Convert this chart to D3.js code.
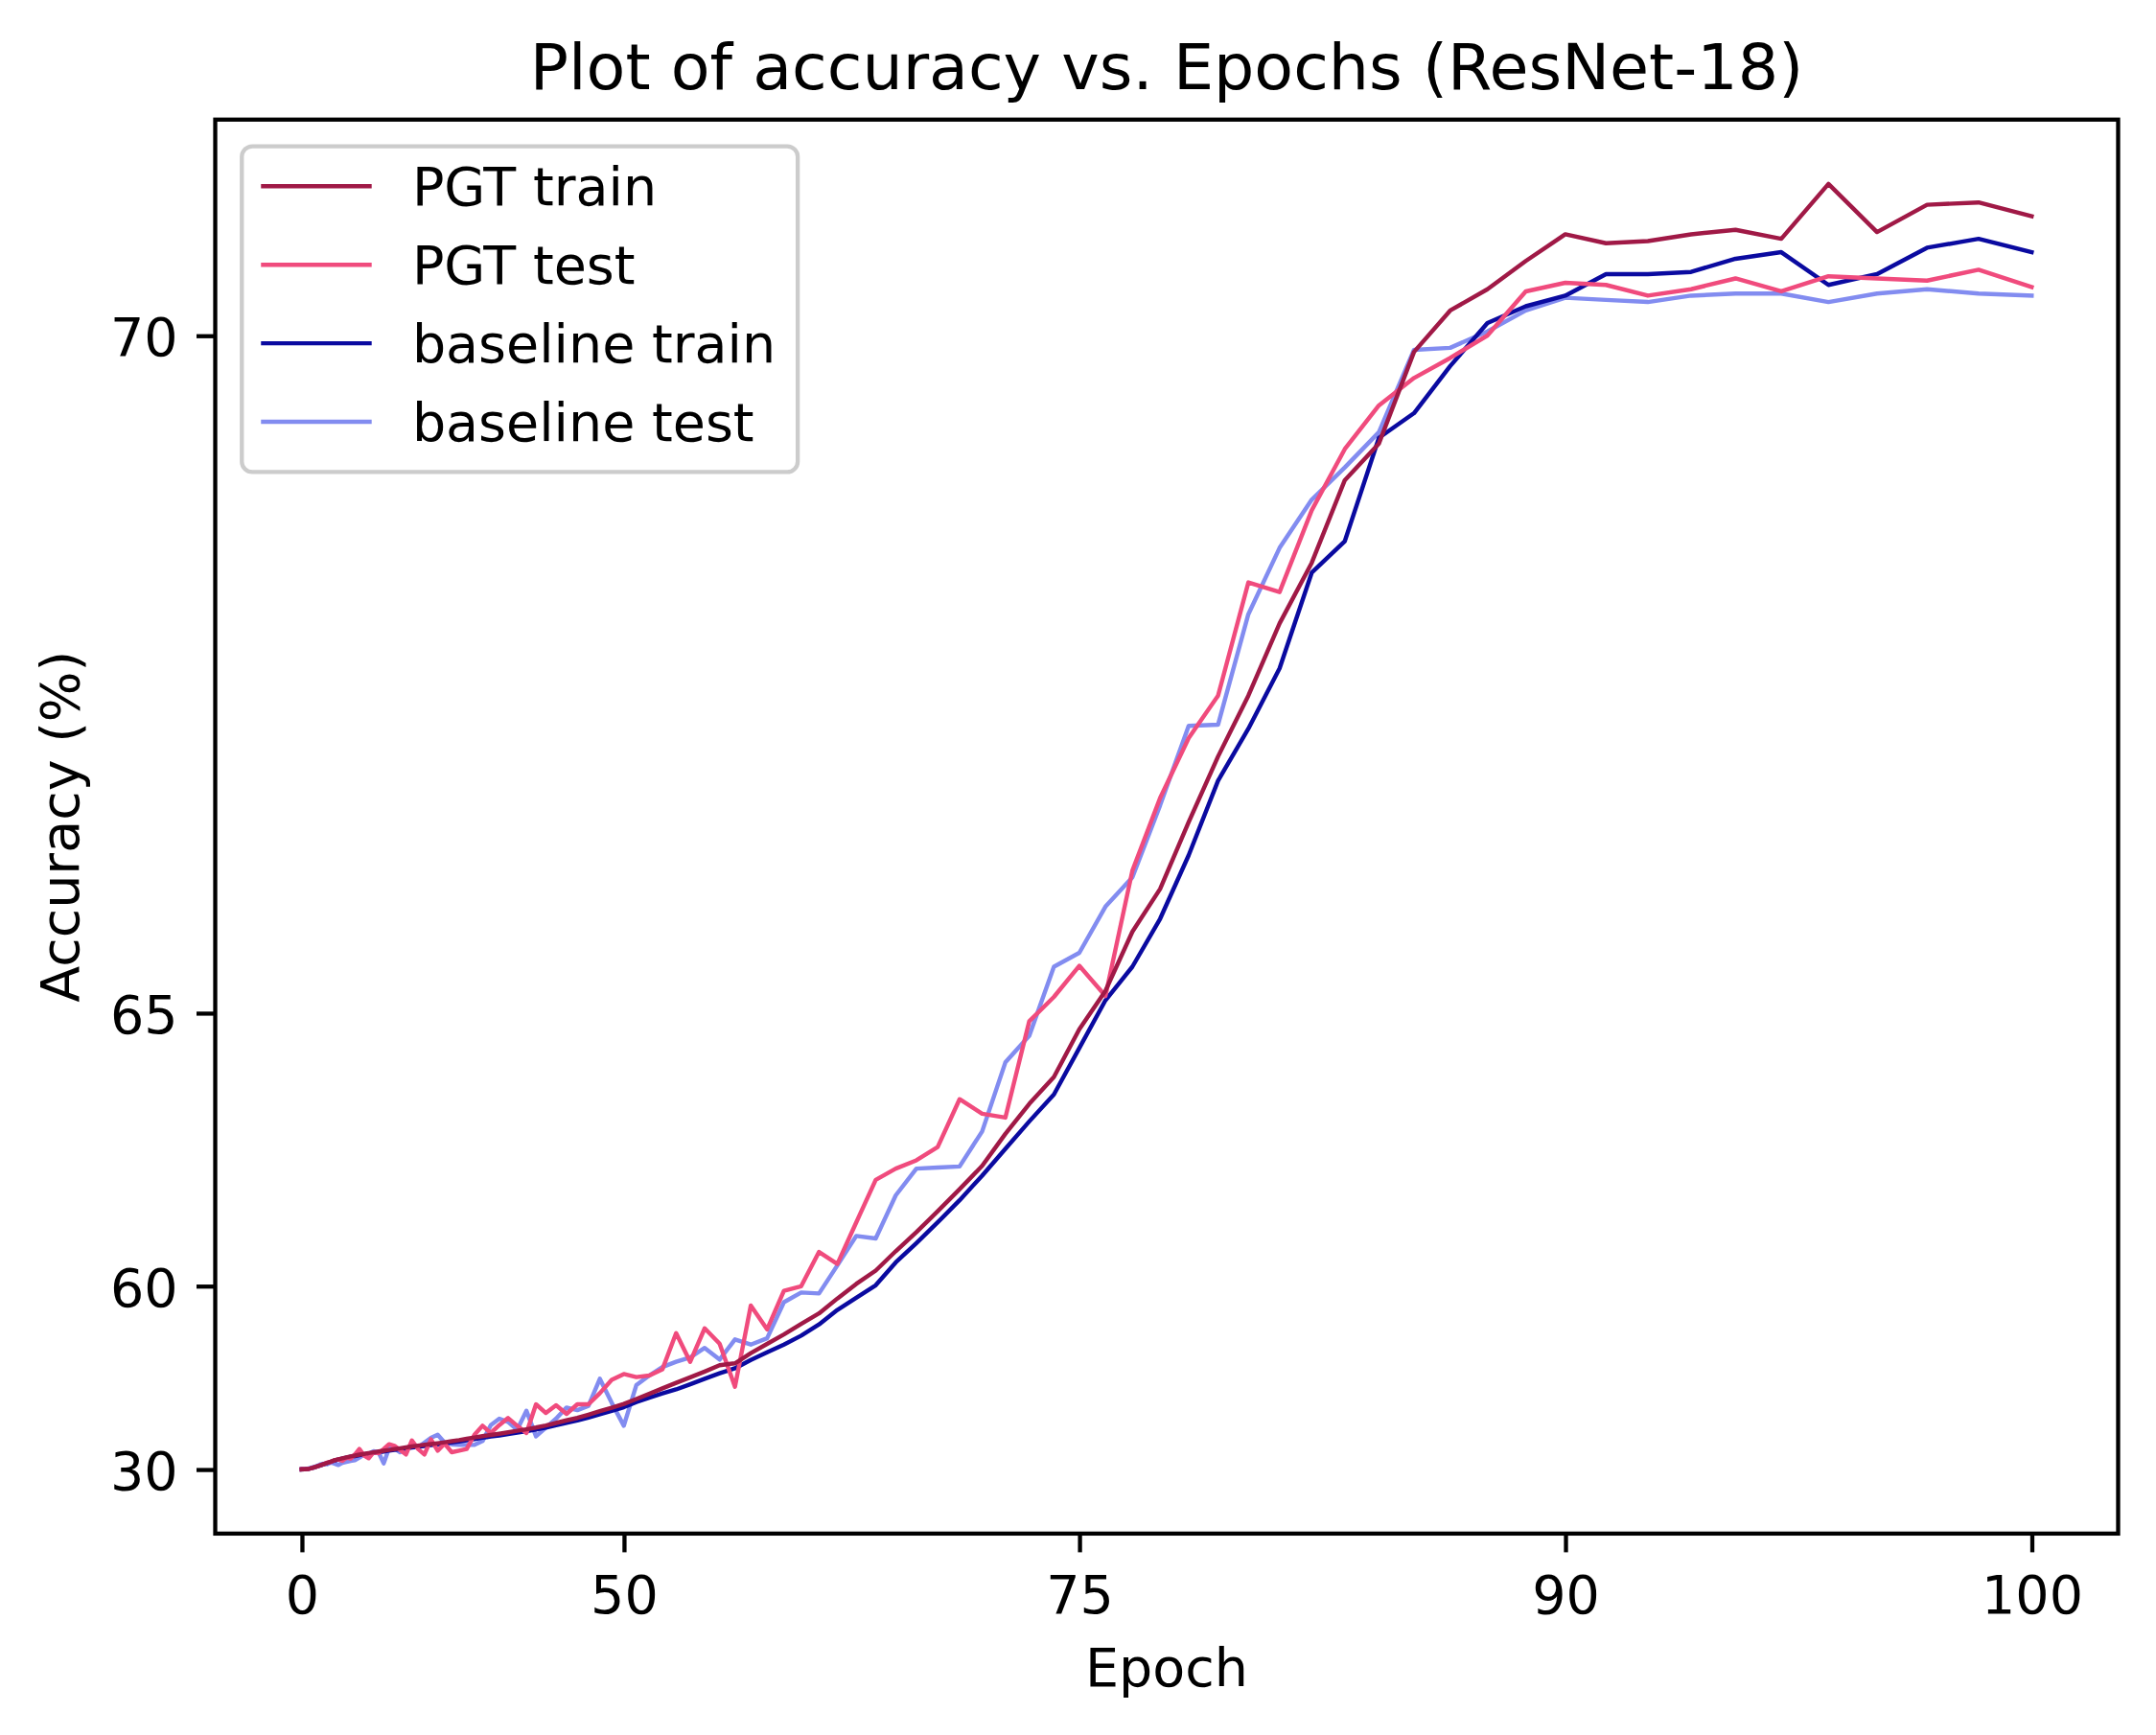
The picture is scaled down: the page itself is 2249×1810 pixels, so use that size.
<!DOCTYPE html>
<html>
<head>
<meta charset="utf-8">
<title>Plot of accuracy vs. Epochs (ResNet-18)</title>
<script src="https://d3js.org/d3.v7.min.js"></script>
<style>
body { margin: 0; background: #ffffff; }
#chart text { font-family: 'DejaVu Sans', sans-serif; fill: #000; }
.series { fill: none; stroke-linejoin: round; stroke-linecap: square; }
</style>
</head>
<body>
<svg id="chart"></svg>
<script>
// epochs 0..100, one point per epoch
var epochs = d3.range(0, 101);

var pgtTrain = [
	30.00, 31.00, 31.50, 34.50, 36.59, 38.52, 39.95, 41.20, 42.23, 43.09,
	43.84, 44.42, 44.89, 45.32, 45.72, 46.04, 46.39, 46.63, 46.90, 47.14,
	47.37, 47.61, 47.84, 48.06, 48.27, 48.48, 48.70, 48.89, 49.07, 49.25,
	49.42, 49.61, 49.80, 50.01, 50.25, 50.47, 50.69, 50.89, 51.08, 51.28,
	51.50, 51.71, 51.94, 52.20, 52.50, 52.80, 53.06, 53.40, 53.74, 54.05,
	54.37, 54.76, 55.15, 55.53, 55.89, 56.23, 56.56, 56.90, 57.00, 57.50,
	57.92, 58.32, 58.73, 59.11, 59.61, 60.06, 60.44, 60.95, 61.41, 61.87,
	62.32, 62.76, 63.31, 63.78, 64.17, 64.80, 65.26, 65.90, 66.32, 66.92,
	67.45, 67.90, 68.39, 68.77, 69.25, 69.45, 69.92, 70.12, 70.22, 70.35,
	70.47, 70.43, 70.44, 70.47, 70.49, 70.45, 70.69, 70.48, 70.60, 70.61, 70.55
];

var pgtTest = [
	30.00, 31.10, 31.80, 34.20, 36.80, 38.30, 40.10, 41.00, 42.40, 42.95,
	43.92, 44.27, 43.56, 45.18, 44.74, 46.44, 48.08, 46.09, 44.90, 47.16,
	46.86, 48.08, 49.20, 48.85, 47.82, 46.44, 49.96, 48.08, 46.44, 50.14,
	47.64, 49.34, 47.16, 47.64, 48.08, 50.93, 52.17, 51.18, 52.25, 53.05,
	52.17, 51.18, 54.34, 53.56, 54.26, 53.47, 54.34, 54.34, 55.20, 56.08,
	56.42, 56.24, 56.33, 56.69, 58.37, 57.08, 58.56, 57.93, 55.64, 59.38,
	58.52, 59.85, 59.99, 60.93, 60.62, 61.63, 62.50, 62.71, 62.86, 63.09,
	63.85, 63.63, 63.57, 64.90, 65.19, 65.54, 65.20, 66.49, 67.12, 67.59,
	67.90, 68.65, 68.59, 69.08, 69.42, 69.65, 69.79, 69.89, 70.00, 70.21,
	70.25, 70.24, 70.19, 70.22, 70.27, 70.21, 70.28, 70.27, 70.26, 70.31, 70.23
];

var baseTrain = [
	30.00, 31.00, 31.50, 34.40, 36.40, 38.30, 39.80, 41.05, 42.10, 42.95,
	43.70, 44.27, 44.74, 45.16, 45.55, 45.86, 46.19, 46.43, 46.70, 46.93,
	47.16, 47.40, 47.63, 47.84, 48.04, 48.24, 48.45, 48.64, 48.82, 49.00,
	49.17, 49.36, 49.55, 49.76, 49.99, 50.21, 50.43, 50.63, 50.82, 51.02,
	51.24, 51.45, 51.68, 51.93, 52.22, 52.52, 52.78, 53.11, 53.45, 53.77,
	54.09, 54.52, 54.87, 55.18, 55.46, 55.80, 56.14, 56.46, 56.74, 57.17,
	57.54, 57.89, 58.27, 58.71, 59.23, 59.63, 60.02, 60.66, 61.15, 61.63,
	62.10, 62.58, 63.06, 63.51, 63.92, 64.56, 65.15, 65.53, 66.03, 66.63,
	67.26, 67.66, 68.09, 68.71, 68.90, 69.48, 69.61, 69.85, 70.06, 70.14,
	70.19, 70.29, 70.29, 70.30, 70.36, 70.39, 70.24, 70.29, 70.41, 70.45, 70.39
];

var baseTest = [
	30.00, 31.30, 32.90, 35.50, 37.60, 38.90, 40.90, 41.50, 41.00, 42.50,
	41.60, 40.30, 42.30, 42.95, 43.56, 43.92, 45.18, 46.44, 46.66, 47.45,
	47.16, 41.80, 48.32, 48.20, 47.16, 48.30, 48.85, 48.48, 49.53, 50.42,
	50.93, 49.53, 49.20, 49.06, 49.06, 49.06, 49.84, 52.25, 52.98, 52.63,
	51.63, 53.77, 50.68, 51.93, 52.98, 54.06, 53.83, 54.20, 56.14, 54.47,
	52.17, 55.74, 56.33, 56.81, 57.08, 57.30, 57.74, 57.19, 58.11, 57.89,
	58.16, 59.49, 59.80, 59.77, 60.58, 61.32, 61.26, 62.20, 62.71, 62.73,
	62.75, 63.35, 64.37, 64.72, 65.53, 65.68, 66.15, 66.43, 67.06, 67.68,
	67.69, 68.45, 68.86, 69.14, 69.32, 69.51, 69.93, 69.94, 70.02, 70.12,
	70.18, 70.17, 70.16, 70.19, 70.20, 70.20, 70.16, 70.20, 70.22, 70.20, 70.19
];

var xTicks = [0, 50, 75, 90, 100];
var yTicks = [30, 60, 65, 70];

var seriesNames = ["PGT train", "PGT test", "baseline train", "baseline test"];
var seriesColors = ["#a01946", "#f04b7d", "#0a0aa0", "#828cf0"];
var seriesValues = [pgtTrain, pgtTest, baseTrain, baseTest];
var drawOrder = [3, 2, 1, 0]; // PGT train ends up on top

/******** layout (view units, scaled up to 2249x1810) ********/
var W = 1568, H = 1262;
// note: not called "top", that one is taken by window.top
var axL = 156.5, axR = 1540.5, axT = 87, axB = 1115.5;
var FONT = "'DejaVu Sans', sans-serif";
var fs = 38.7;        // 10pt
var tickLen = 13.6;   // 3.5pt
var lw = 3.0;

var svg = d3.select("#chart")
	.attr("width", 2249)
	.attr("height", 1810)
	.attr("viewBox", "0 0 " + W + " " + H);

svg.append("rect").attr("width", W).attr("height", H).attr("fill", "#fff");

// both axes are stretched: the chart uses an exponential warp on x and y
var xWarp = function(e){ return Math.exp(0.0295 * e); };
var yWarp = function(v){ return Math.exp(0.1818 * v); };

//matplotlib style 5% margin round the data
function padded(ext){
	var p = (ext[1] - ext[0]) * 0.05;
	return [ext[0] - p, ext[1] + p];
}

var allValues = d3.merge(seriesValues);

var x = d3.scaleLinear()
	.domain(padded(d3.extent(epochs.map(xWarp))))
	.range([axL, axR]);

var y = d3.scaleLinear()
	.domain(padded(d3.extent(allValues.map(yWarp))))
	.range([axB, axT]);

var line = d3.line()
	.x(function(d, i){ return x(xWarp(epochs[i])); })
	.y(function(d){ return y(yWarp(d)); });

/******** lines ********/
drawOrder.forEach(function(k){
	svg.append("path")
		.datum(seriesValues[k])
		.attr("class", "series")
		.attr("stroke", seriesColors[k])
		.attr("stroke-width", 3.1)
		.attr("d", line);
});

/******** axes ********/
var xAxis = d3.axisBottom(x)
	.tickValues(xTicks.map(xWarp))
	.tickFormat(function(d, i){ return xTicks[i]; })
	.tickSizeInner(tickLen)
	.tickSizeOuter(0)
	.tickPadding(tickLen);

var gx = svg.append("g")
	.attr("transform", "translate(0," + axB + ")")
	.call(xAxis)
	.attr("font-family", FONT)
	.attr("font-size", fs);
gx.select(".domain").remove();
gx.selectAll(".tick line").attr("stroke", "#000").attr("stroke-width", lw);
gx.selectAll(".tick text").attr("dy", null).attr("y", 58);

var yAxis = d3.axisLeft(y)
	.tickValues(yTicks.map(yWarp))
	.tickFormat(function(d, i){ return yTicks[i]; })
	.tickSizeInner(tickLen)
	.tickSizeOuter(0)
	.tickPadding(tickLen);

var gy = svg.append("g")
	.attr("transform", "translate(" + axL + ",0)")
	.call(yAxis)
	.attr("font-family", FONT)
	.attr("font-size", fs);
gy.select(".domain").remove();
gy.selectAll(".tick line").attr("stroke", "#000").attr("stroke-width", lw);
gy.selectAll(".tick text").attr("dy", "0.37em");

// frame
svg.append("rect")
	.attr("x", axL).attr("y", axT)
	.attr("width", axR - axL).attr("height", axB - axT)
	.attr("fill", "none")
	.attr("stroke", "#000")
	.attr("stroke-width", lw);

/******** texts ********/
var cx = (axL + axR) / 2;
var cy = (axT + axB) / 2;

svg.append("text")
	.attr("x", cx).attr("y", 64.5)
	.attr("text-anchor", "middle")
	.attr("font-size", 46.5)
	.text("Plot of accuracy vs. Epochs (ResNet-18)");

svg.append("text")
	.attr("x", cx).attr("y", 1226.6)
	.attr("text-anchor", "middle")
	.attr("font-size", fs)
	.text("Epoch");

svg.append("text")
	.attr("transform", "translate(56.9," + cy + ") rotate(-90)")
	.attr("text-anchor", "middle")
	.attr("font-size", fs)
	.text("Accuracy (%)");

/******** legend ********/
var lx = axL + 0.5 * fs, ly = axT + 0.5 * fs;
var rowY = 135.5, rowStep = 57.1;

var legend = svg.append("g");
legend.append("rect")
	.attr("x", lx).attr("y", ly)
	.attr("width", 404.3).attr("height", 237)
	.attr("rx", 7.7).attr("ry", 7.7)
	.attr("fill", "#fff").attr("fill-opacity", 0.8)
	.attr("stroke", "#cccccc").attr("stroke-width", lw);

var item = legend.selectAll("g.item")
	.data(seriesNames)
	.enter()
	.append("g")
	.attr("class", "item")
	.attr("transform", function(d, i){ return "translate(0," + (rowY + i * rowStep) + ")"; });

item.append("line")
	.attr("x1", lx + 0.4 * fs).attr("x2", lx + 2.4 * fs)
	.attr("y1", 0).attr("y2", 0)
	.attr("stroke", function(d, i){ return seriesColors[i]; })
	.attr("stroke-width", 3.1)
	.attr("stroke-linecap", "square");

item.append("text")
	.attr("x", lx + 3.2 * fs)
	.attr("y", 14)
	.attr("font-size", fs)
	.text(function(d){ return d; });
</script>
</body>
</html>
